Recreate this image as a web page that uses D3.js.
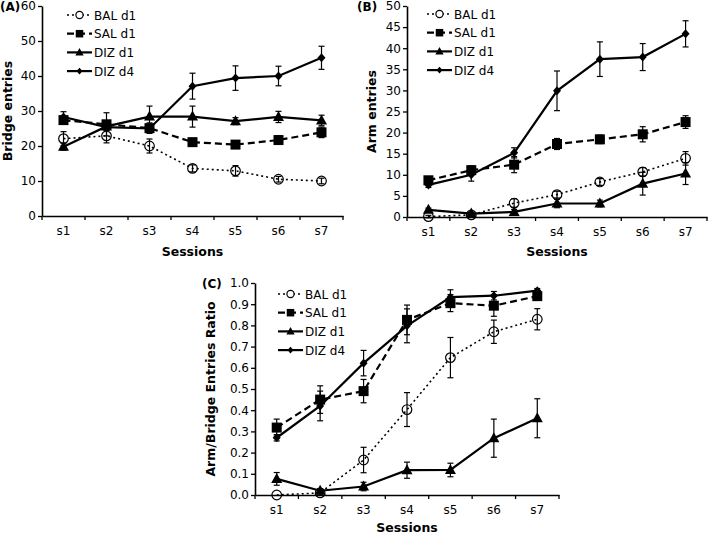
<!DOCTYPE html>
<html><head><meta charset="utf-8">
<script src="https://cdn.jsdelivr.net/npm/d3@7"></script>
<style>body{margin:0;background:#fff}svg{display:block}text{font-family:"DejaVu Sans",Verdana,sans-serif;fill:#000}</style>
</head><body>
<script>
const sessions = ["s1","s2","s3","s4","s5","s6","s7"];
const seriesNames = ["BAL d1","SAL d1","DIZ d1","DIZ d4"];

// Panel A: Bridge entries
const balA = [22.1, 22.9, 20.0, 13.6, 12.9, 10.5, 10.0];
const balAErr = [2.0, 2.0, 2.0, 1.0, 1.5, 0.8, 0.8];
const salA = [27.4, 26.2, 25.1, 21.1, 20.4, 21.7, 23.9];
const salAErr = [1.0, 3.3, 1.5, 1.0, 0.8, 1.2, 1.5];
const diz1A = [19.8, 25.6, 28.4, 28.4, 27.1, 28.3, 27.3];
const diz1AErr = [1.0, 1.0, 3.0, 3.0, 1.0, 1.6, 1.5];
const diz4A = [28.3, 25.4, 25.0, 37.1, 39.4, 40.0, 45.2];
const diz4AErr = [1.5, 1.0, 1.0, 3.7, 3.5, 2.8, 3.3];
const ticksA = [0,10,20,30,40,50,60];

// Panel B: Arm entries
const balB = [0.1, 0.5, 3.3, 5.3, 8.3, 10.7, 13.9];
const balBErr = [0.3, 0.3, 1.0, 0.8, 0.8, 1.0, 1.6];
const salB = [8.7, 11.1, 12.4, 17.3, 18.4, 19.6, 22.5];
const salBErr = [0.8, 1.0, 1.9, 1.3, 1.0, 1.8, 1.5];
const diz1B = [1.7, 0.8, 1.2, 3.2, 3.2, 7.9, 10.3];
const diz1BErr = [0.4, 0.3, 0.6, 1.0, 0.8, 2.7, 2.6];
const diz4B = [7.6, 10.0, 15.2, 29.9, 37.4, 37.9, 43.4];
const diz4BErr = [0.6, 1.5, 1.2, 4.7, 4.1, 3.2, 3.1];
const ticksB = [0,5,10,15,20,25,30,35,40,45,50];

// Panel C: Arm/Bridge entries ratio
const balC = [0.0, 0.01, 0.165, 0.403, 0.648, 0.770, 0.829];
const balCErr = [0, 0.01, 0.06, 0.08, 0.095, 0.055, 0.05];
const salC = [0.318, 0.450, 0.490, 0.826, 0.905, 0.893, 0.938];
const salCErr = [0.04, 0.065, 0.055, 0.07, 0.04, 0.05, 0.02];
const diz1C = [0.076, 0.020, 0.040, 0.117, 0.118, 0.268, 0.362];
const diz1CErr = [0.03, 0.01, 0.02, 0.038, 0.032, 0.09, 0.092];
const diz4C = [0.270, 0.420, 0.622, 0.798, 0.933, 0.940, 0.964];
const diz4CErr = [0.015, 0.07, 0.06, 0.08, 0.035, 0.02, 0.01];
const ticksC = [0,0.1,0.2,0.3,0.4,0.5,0.6,0.7,0.8,0.9,1.0];

const styles = {
  "BAL d1": {dash:"2,3", w:1.6, marker:"circle"},
  "SAL d1": {dash:"7,4", w:2.2, marker:"square"},
  "DIZ d1": {dash:null, w:2.2, marker:"triangle"},
  "DIZ d4": {dash:null, w:2.2, marker:"diamond"}
};

const svg = d3.select("body").append("svg").attr("width",709).attr("height",534);

function drawMarker(g, type, x, y, s){
  s = s || 1;
  if(type==="circle"){
    g.append("circle").attr("cx",x).attr("cy",y).attr("r",4.8*s).attr("fill","none").attr("stroke","#000").attr("stroke-width",1.2);
  } else if(type==="square"){
    g.append("rect").attr("x",x-5*s).attr("y",y-5*s).attr("width",10*s).attr("height",10*s).attr("fill","#000");
  } else if(type==="triangle"){
    g.append("path").attr("d",`M${x},${y-6*s}L${x+5.5*s},${y+4*s}L${x-5.5*s},${y+4*s}Z`).attr("fill","#000");
  } else {
    g.append("path").attr("d",`M${x},${y-4.5*s}L${x+4*s},${y}L${x},${y+4.5*s}L${x-4*s},${y}Z`).attr("fill","#000");
  }
}

function panel(cfg){
  const g = svg.append("g");
  const x = d3.scaleBand().domain(sessions).range([cfg.left, cfg.right]);
  const y = d3.scaleLinear().domain([cfg.ticks[0], cfg.ticks[cfg.ticks.length-1]]).range([cfg.bottom, cfg.top]);
  const ya = g.append("g").attr("transform",`translate(${cfg.left},0)`)
    .call(d3.axisLeft(y).tickValues(cfg.ticks).tickSize(4).tickSizeOuter(0).tickFormat(cfg.fmt));
  ya.select(".domain").attr("stroke-width",1.6);
  ya.selectAll(".tick line").attr("stroke-width",1.3);
  ya.selectAll("text").style("font-size","12px").attr("x",-6);
  const xa = g.append("g").attr("transform",`translate(0,${cfg.bottom})`)
    .call(d3.axisBottom(x).tickSize(0).tickPadding(10));
  xa.select(".domain").attr("stroke-width",1.6);
  xa.selectAll("text").style("font-size","12px");
  const bounds = sessions.map(s=>x(s)).concat([cfg.right]);
  g.selectAll(".xt").data(bounds).enter().append("line")
    .attr("x1",d=>d).attr("x2",d=>d).attr("y1",cfg.bottom).attr("y2",cfg.bottom+4)
    .attr("stroke","#000").attr("stroke-width",1.3);
  const cx = s=>x(s)+x.bandwidth()/2;
  g.append("text").attr("x",(cfg.left+cfg.right)/2).attr("y",cfg.bottom+cfg.sessDy).attr("text-anchor","middle")
    .style("font-size","12.5px").style("font-weight","bold").text("Sessions");
  g.append("text").attr("transform",`translate(${cfg.ylx},${(cfg.top+cfg.bottom)/2}) rotate(-90)`)
    .attr("text-anchor","middle").style("font-size","12.5px").style("font-weight","bold").text(cfg.ylabel);
  g.append("text").attr("x",cfg.tagX).attr("y",cfg.tagY).style("font-size","12px").style("font-weight","bold").text(cfg.tag);
  cfg.series.forEach((sv,i)=>{
    const eg = g.append("g");
    sv.vals.forEach((v,j)=>{
      const e = sv.err[j]; if(!e) return;
      const xx = cx(sessions[j]);
      eg.append("line").attr("x1",xx).attr("x2",xx).attr("y1",y(v-e)).attr("y2",y(v+e)).attr("stroke","#000").attr("stroke-width",1.2);
      [v-e,v+e].forEach(t=>eg.append("line").attr("x1",xx-3).attr("x2",xx+3).attr("y1",y(t)).attr("y2",y(t)).attr("stroke","#000").attr("stroke-width",1.2));
    });
  });
  cfg.series.forEach((sv,i)=>{
    const st = styles[seriesNames[i]];
    const line = d3.line().x((d,j)=>cx(sessions[j])).y(d=>y(d));
    g.append("path").datum(sv.vals).attr("d",line).attr("fill","none").attr("stroke","#000")
      .attr("stroke-width",st.w).attr("stroke-dasharray",st.dash);
  });
  cfg.series.forEach((sv,i)=>{
    const st = styles[seriesNames[i]];
    const mg = g.append("g");
    sv.vals.forEach((v,j)=>drawMarker(mg, st.marker, cx(sessions[j]), y(v)));
  });
  seriesNames.forEach((n,i)=>{
    const st = styles[n];
    const ly = cfg.legY + i*18.7;
    g.append("line").attr("x1",cfg.legX).attr("x2",cfg.legX+25).attr("y1",ly).attr("y2",ly)
      .attr("stroke","#000").attr("stroke-width",st.w).attr("stroke-dasharray",st.dash);
    if(st.marker==="circle"){
      g.append("circle").attr("cx",cfg.legX+12.5).attr("cy",ly).attr("r",3.6).attr("fill","#fff").attr("stroke","#000").attr("stroke-width",1.2);
    } else drawMarker(g, st.marker, cfg.legX+12.5, ly, 0.75);
    g.append("text").attr("x",cfg.legX+27).attr("y",ly+4.5).style("font-size","12px").text(n);
  });
}

panel({left:42,right:343,top:6,bottom:216,ticks:ticksA,fmt:d3.format("d"),ylabel:"Bridge entries",ylx:12,tag:"(A)",tagX:0,tagY:11,
  legX:67,legY:15,sessDy:40,
  series:[{vals:balA,err:balAErr},{vals:salA,err:salAErr},{vals:diz1A,err:diz1AErr},{vals:diz4A,err:diz4AErr}]});
panel({left:407,right:707,top:6,bottom:217,ticks:ticksB,fmt:d3.format("d"),ylabel:"Arm entries",ylx:376,tag:"(B)",tagX:357,tagY:11,
  legX:427,legY:14,sessDy:39,
  series:[{vals:balB,err:balBErr},{vals:salB,err:salBErr},{vals:diz1B,err:diz1BErr},{vals:diz4B,err:diz4BErr}]});
panel({left:255,right:559,top:283,bottom:495,ticks:ticksC,fmt:d3.format(".1f"),ylabel:"Arm/Bridge Entries Ratio",ylx:215,tag:"(C)",tagX:202,tagY:288,
  legX:278,legY:294,sessDy:37,
  series:[{vals:balC,err:balCErr},{vals:salC,err:salCErr},{vals:diz1C,err:diz1CErr},{vals:diz4C,err:diz4CErr}]});
</script>
</body></html>
